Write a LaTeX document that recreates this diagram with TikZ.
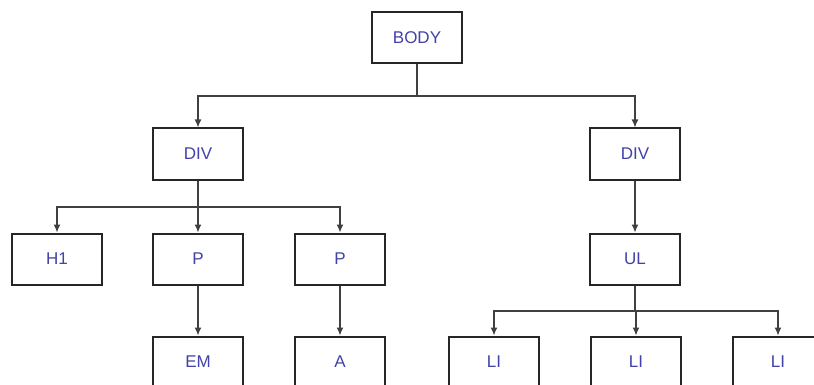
\documentclass[tikz,border=0pt]{standalone}
\usepackage{fontspec}
\setmainfont{Liberation Sans}
\usepackage{xcolor}
\usetikzlibrary{arrows.meta, positioning}
\definecolor{tagblue}{RGB}{66,66,168}

\begin{document}
\begin{tikzpicture}[x=1pt, y=-1pt,
    tag/.style={draw=black!85, line width=2pt, fill=white, minimum width=90pt,
      minimum height=51pt, text=tagblue, font=\fontsize{17}{20}\selectfont},
    link/.style={draw=black!75, line width=1.2pt},
    >={Latex[length=8pt,width=7pt]}]
    \useasboundingbox (0,0) rectangle (814,385);
    \clip (0,0) rectangle (814,385);

    % boxes
    \node[tag] (body) at (417,38) {BODY};
    \node[tag] (divl) at (198,154) {DIV};
    \node[tag] (divr) at (635,154) {DIV};
    \node[tag] (h1) at (57,259) {H1};
    \node[tag] (pl) at (198,259) {P};
    \node[tag] (pr) at (340,259) {P};
    \node[tag] (ul) at (635,259) {UL};
    \node[tag] (em) at (198,362) {EM};
    \node[tag] (a) at (340,362) {A};
    \node[tag] (lia) at (494,362) {LI};
    \node[tag] (lib) at (636,362) {LI};
    \node[tag] (lic) at (778,362) {LI};

    % junctions
    \coordinate (jbody) at (417,96);
    \coordinate (jdiv) at (198,207);
    \coordinate (jul) at (635,311);

    % connectors
    \draw[link] (body) -- (jbody);
    \draw[link,->] (jbody) -| (divl);
    \draw[link,->] (jbody) -| (divr);
    \draw[link] (divl) -- (jdiv);
    \draw[link,->] (jdiv) -| (h1);
    \draw[link,->] (jdiv) -- (pl);
    \draw[link,->] (jdiv) -| (pr);
    \draw[link,->] (divr) -- (ul);
    \draw[link,->] (pl) -- (em);
    \draw[link,->] (pr) -- (a);
    \draw[link] (ul) -- (jul);
    \draw[link,->] (jul) -| (lia);
    \draw[link,->] (jul) -| (lib);
    \draw[link,->] (jul) -| (lic);
\end{tikzpicture}
\end{document}
